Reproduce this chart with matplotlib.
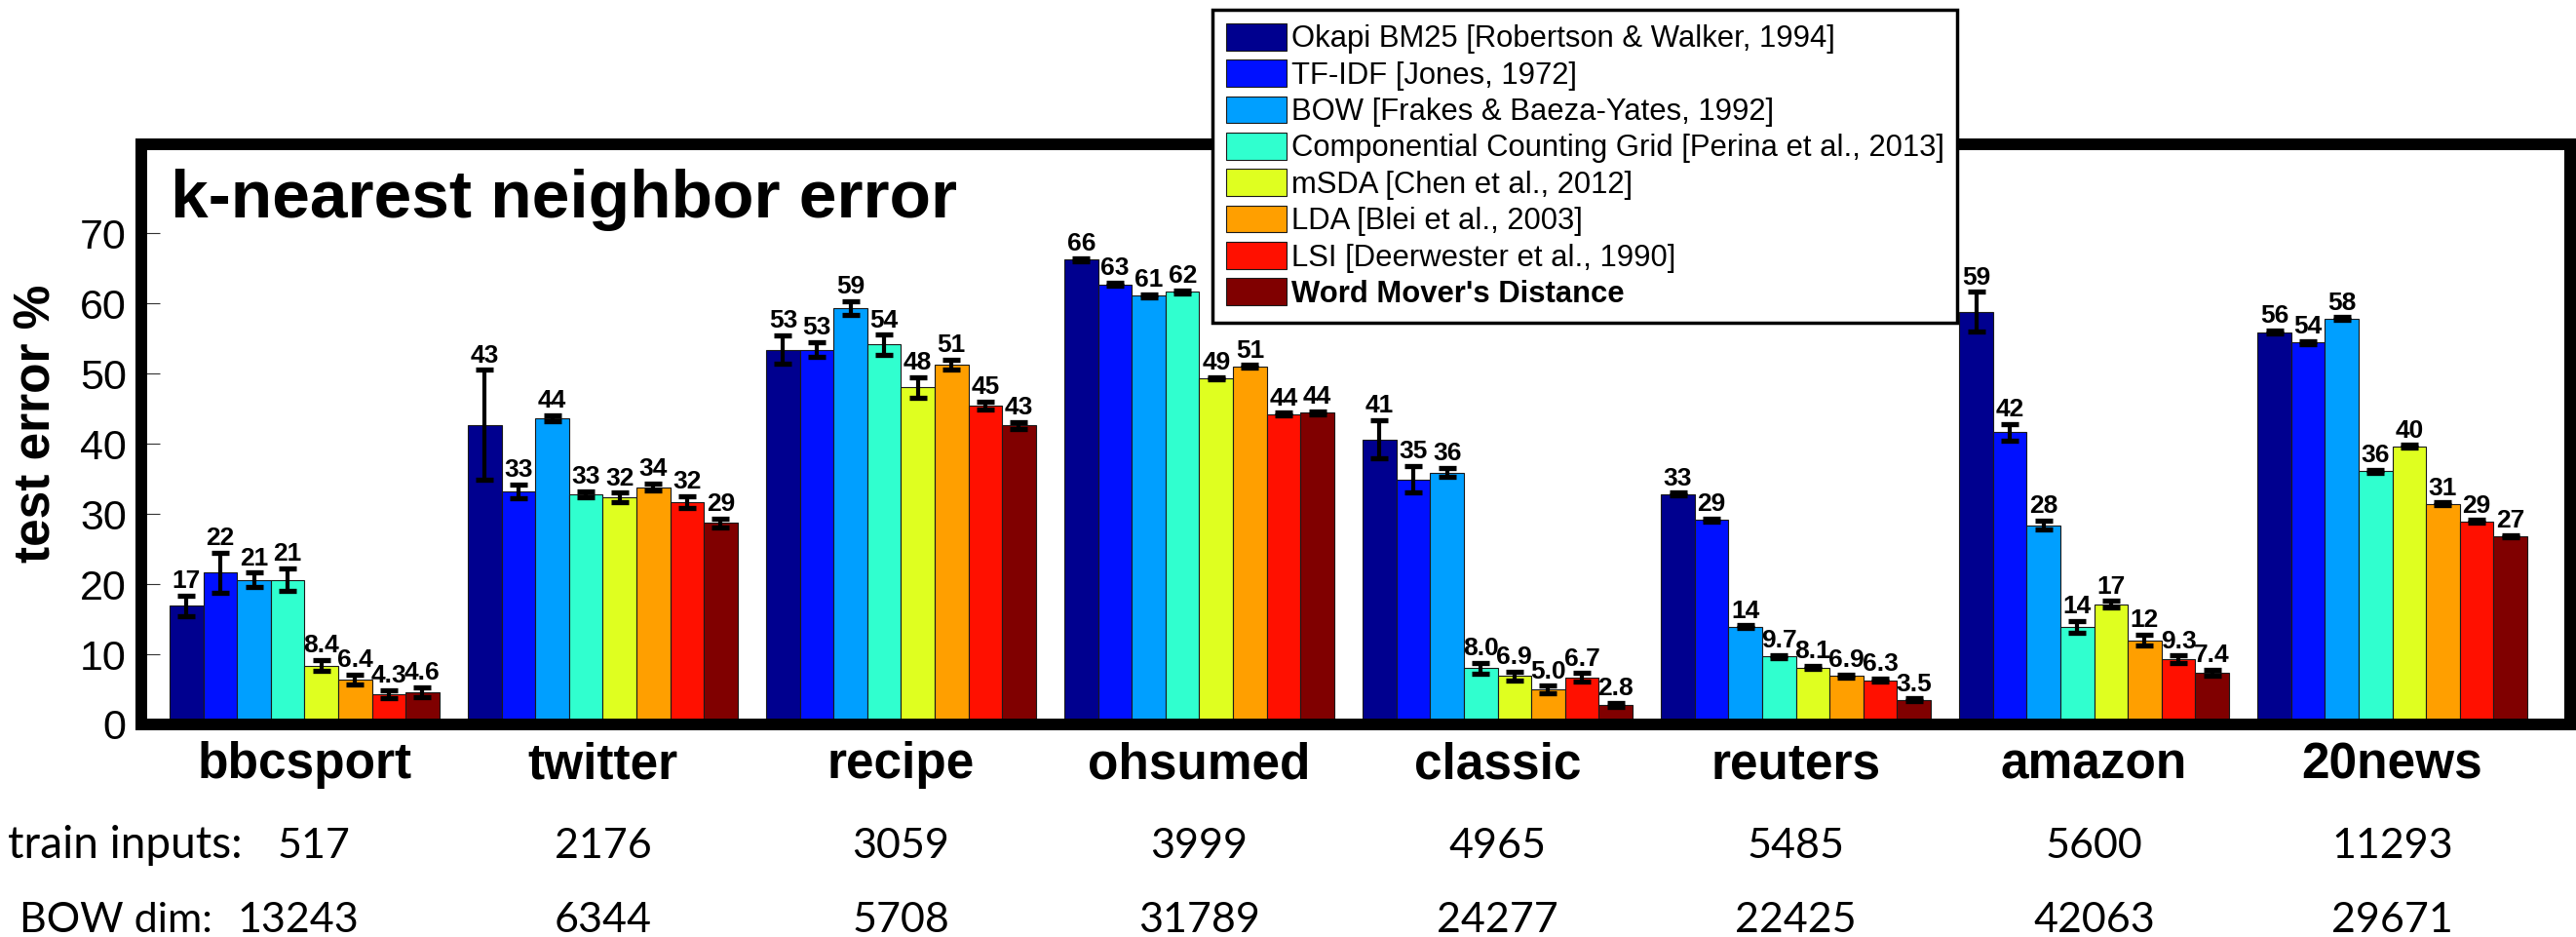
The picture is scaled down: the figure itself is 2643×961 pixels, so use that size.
import matplotlib
matplotlib.use('Agg')
import matplotlib.pyplot as plt
import numpy as np
from matplotlib import font_manager
from matplotlib.transforms import blended_transform_factory

# ---------------- data ----------------
datasets = ['bbcsport', 'twitter', 'recipe', 'ohsumed', 'classic', 'reuters', 'amazon', '20news']
methods = ['Okapi BM25 [Robertson & Walker, 1994]',
           'TF-IDF [Jones, 1972]',
           'BOW [Frakes & Baeza-Yates, 1992]',
           'Componential Counting Grid [Perina et al., 2013]',
           'mSDA [Chen et al., 2012]',
           'LDA [Blei et al., 2003]',
           'LSI [Deerwester et al., 1990]',
           "Word Mover's Distance"]
train_inputs = ['517', '2176', '3059', '3999', '4965', '5485', '5600', '11293']
bow_dim = ['13243', '6344', '5708', '31789', '24277', '22425', '42063', '29671']

bm25  = [16.9, 42.7, 53.4, 66.2, 40.6, 32.8, 58.8, 55.9]
tfidf = [21.6, 33.2, 53.4, 62.7, 34.9, 29.1, 41.6, 54.4]
bow   = [20.6, 43.6, 59.3, 61.1, 35.9, 13.9, 28.4, 57.8]
ccg   = [20.6, 32.8, 54.1, 61.6, 8.0, 9.7, 13.9, 36.1]
msda  = [8.4, 32.3, 48.0, 49.3, 6.9, 8.1, 17.1, 39.6]
lda   = [6.4, 33.8, 51.3, 51.0, 5.0, 6.9, 12.0, 31.4]
lsi   = [4.3, 31.7, 45.4, 44.2, 6.7, 6.3, 9.3, 28.9]
wmd   = [4.6, 28.7, 42.6, 44.4, 2.8, 3.5, 7.4, 26.8]

bm25_err  = [1.5, 7.8, 2.0, 0.2, 2.7, 0.2, 2.8, 0.2]
tfidf_err = [2.9, 1.0, 1.1, 0.2, 1.9, 0.2, 1.2, 0.2]
bow_err   = [1.0, 0.4, 1.0, 0.2, 0.6, 0.2, 0.6, 0.2]
ccg_err   = [1.6, 0.4, 1.4, 0.2, 0.8, 0.2, 0.8, 0.2]
msda_err  = [0.8, 0.7, 1.5, 0.2, 0.6, 0.2, 0.5, 0.2]
lda_err   = [0.7, 0.5, 0.7, 0.2, 0.5, 0.2, 0.8, 0.2]
lsi_err   = [0.6, 0.8, 0.6, 0.2, 0.6, 0.2, 0.5, 0.2]
wmd_err   = [0.7, 0.6, 0.5, 0.2, 0.3, 0.2, 0.4, 0.2]

series = [bm25, tfidf, bow, ccg, msda, lda, lsi, wmd]
errors = [bm25_err, tfidf_err, bow_err, ccg_err, msda_err, lda_err, lsi_err, wmd_err]
colors = ['#00008F', '#0010FF', '#009FFF', '#30FFCF', '#DFFF20', '#FF9F00', '#FF1000', '#800000']

# ---------------- fonts ----------------
installed = {f.name for f in font_manager.fontManager.ttflist}
if 'Liberation Sans Narrow' in installed:
    bottom_family, bottom_size, head_size = ['Liberation Sans Narrow', 'DejaVu Sans'], 33, 35
else:
    bottom_family, bottom_size, head_size = ['Lato', 'DejaVu Sans'], 31, 33

# ---------------- figure ----------------
W, H = 2643, 961
fig = plt.figure(figsize=(W / 100, H / 100), dpi=100)
plt.rcParams['font.family'] = ['Liberation Sans', 'DejaVu Sans']

ax_left, ax_right, ax_top, ax_bottom = 145, 2637, 148, 743
ax = fig.add_axes([ax_left / W, 1 - ax_bottom / H, (ax_right - ax_left) / W, (ax_bottom - ax_top) / H])

x = np.arange(len(datasets))
bw = 0.113
handles = []
for j, (vals, errs, col) in enumerate(zip(series, errors, colors)):
    xs = x + (j - 3.5) * bw
    b = ax.bar(xs, vals, width=bw, color=col, edgecolor='#1a1a1a', linewidth=0.8, zorder=2)
    handles.append(b)
    ax.errorbar(xs, vals, yerr=errs, fmt='none', ecolor='black', elinewidth=3,
                capsize=6.5, capthick=3.8, zorder=3)
    for xi, v, e in zip(xs, vals, errs):
        lab = f'{v:.0f}' if v >= 10 else f'{v:.1f}'
        ax.annotate(lab, (xi, v + e), xytext=(0, 2), textcoords='offset points',
                    ha='center', va='bottom', fontsize=19, fontweight='bold', zorder=4)

ax.set_xlim(-0.547, 7.596)
ax.set_ylim(0, 82.64)
ax.set_yticks(np.arange(0, 71, 10))
ax.tick_params(axis='y', direction='in', length=14, width=0.8, color='#333333',
               labelsize=31, pad=11)
ax.set_xticks(x)
ax.set_xticklabels(datasets, fontsize=37, fontweight='bold')
ax.tick_params(axis='x', length=0, pad=12.5)
for s in ax.spines.values():
    s.set_linewidth(8.64)
    s.set_zorder(5)

# y label and title
fig.text(38 / W, 1 - 434 / H, 'test error %', rotation=90, ha='center', va='center',
         fontsize=37, fontweight='bold')
fig.text(175 / W, 1 - 223 / H, 'k-nearest neighbor error', ha='left', va='baseline',
         fontsize=50, fontweight='bold')

# legend
leg = ax.legend(handles, methods, loc='upper left',
                bbox_to_anchor=(1244 / W, 1 - 10 / H), bbox_transform=fig.transFigure,
                fontsize=22.3, frameon=True, fancybox=False, edgecolor='black', framealpha=1,
                borderpad=0.45, labelspacing=0.19, handlelength=2.0, handleheight=1.0,
                handletextpad=0.15, borderaxespad=0)
leg.get_frame().set_linewidth(2.5)
leg.set_zorder(10)
leg.get_texts()[-1].set_fontweight('bold')

# bottom rows
tr = blended_transform_factory(ax.transData, fig.transFigure)
fig.text(8 / W, 1 - 880 / H, 'train inputs:', ha='left', va='baseline', fontsize=head_size,
         family=bottom_family)
fig.text(20 / W, 1 - 956 / H, 'BOW dim:', ha='left', va='baseline', fontsize=bottom_size,
         family=bottom_family)
for xi, t1, t2 in zip(x, train_inputs, bow_dim):
    fig.text(xi + (0.03 if xi == 0 else 0), 1 - 880 / H, t1, transform=tr, ha='center',
             va='baseline', fontsize=bottom_size, family=bottom_family)
    fig.text(xi - (0.02 if xi == 0 else 0), 1 - 956 / H, t2, transform=tr, ha='center',
             va='baseline', fontsize=bottom_size, family=bottom_family)

fig.savefig('out.png', dpi=100)
